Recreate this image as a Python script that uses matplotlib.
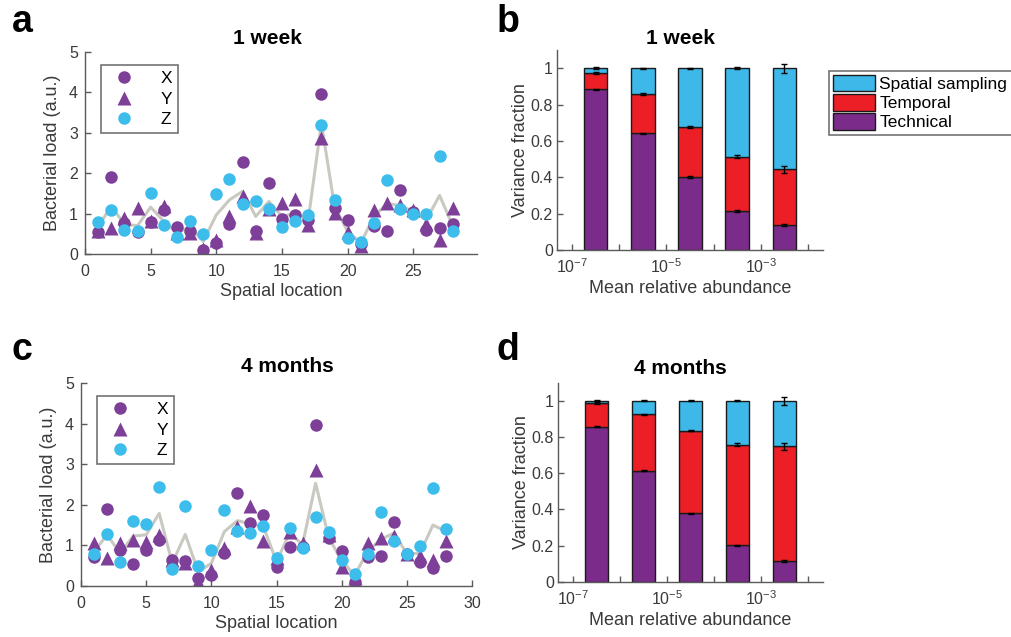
import matplotlib
matplotlib.use("Agg")
import matplotlib.pyplot as plt
from matplotlib.patches import Patch
import numpy as np

plt.rcParams['font.family'] = ['Liberation Sans', 'DejaVu Sans']
plt.rcParams['mathtext.default'] = 'regular'

# ---- data: bacterial load per spatial location ----
loc = np.arange(1, 29)

week_x = [0.54, 1.91, 0.76, 0.54, 0.78, 1.10, 0.68, 0.58, 0.10, 0.26, 0.75, 2.28, 0.58, 1.76,
          0.87, 0.97, 0.85, 3.95, 1.15, 0.85, 0.24, 0.70, 0.58, 1.58, 1.05, 0.60, 0.65, 0.75]
week_y = [0.58, 0.64, 0.89, 1.15, 0.82, 1.18, 0.52, 0.53, 0.12, 0.35, 0.93, 1.43, 0.52, 1.11,
          1.26, 1.36, 0.73, 2.87, 1.01, 0.55, 0.21, 1.10, 1.25, 1.22, 1.10, 0.75, 0.35, 1.15]
week_z = [0.78, 1.10, 0.60, 0.56, 1.51, 0.73, 0.43, 0.81, 0.50, 1.49, 1.86, 1.23, 1.30, 1.11,
          0.68, 0.81, 0.96, 3.20, 1.33, 0.40, 0.29, 0.77, 1.82, 1.12, 1.00, 1.00, 2.42, 0.58]
week_line = [0.68, 1.18, 0.74, 0.70, 1.16, 0.81, 0.52, 0.68, 0.31, 0.97, 1.34, 1.55, 0.93, 1.30,
             0.93, 1.01, 0.85, 3.24, 1.18, 0.56, 0.27, 0.93, 1.25, 1.20, 1.05, 0.85, 1.45, 0.70]

month_x = [0.72, 1.90, 0.89, 0.53, 0.89, 1.13, 0.64, 0.62, 0.19, 0.27, 0.81, 2.29, 1.56, 1.75,
           0.48, 0.97, 0.95, 3.97, 1.18, 0.87, 0.11, 0.72, 0.75, 1.58, 0.78, 0.60, 0.45, 0.75]
month_y = [1.05, 0.68, 1.05, 1.13, 1.09, 1.26, 0.64, 0.56, 0.10, 0.39, 0.93, 1.46, 1.96, 1.12,
           0.68, 1.34, 1.05, 2.86, 1.25, 0.48, 0.20, 1.07, 1.18, 1.22, 0.80, 0.75, 0.65, 1.10]
month_z = [0.79, 1.27, 0.60, 1.61, 1.52, 2.45, 0.42, 1.96, 0.49, 0.89, 1.86, 1.36, 1.30, 1.48,
           0.68, 1.44, 0.93, 1.71, 1.32, 0.64, 0.29, 0.79, 1.82, 1.10, 0.78, 0.98, 2.42, 1.40]
month_line = [0.85, 1.26, 0.81, 1.23, 1.26, 1.79, 0.56, 1.27, 0.35, 0.56, 1.34, 1.61, 1.53, 1.46,
              0.60, 1.30, 1.02, 2.53, 1.20, 0.62, 0.27, 0.85, 1.15, 1.30, 0.80, 0.80, 1.50, 1.35]

# ---- data: variance fractions per abundance bin ----
bin_centers = np.array([-6.5, -5.5, -4.5, -3.5, -2.5])   # log10 mean relative abundance

week_tech = [0.883, 0.641, 0.401, 0.214, 0.136]
week_temp_top = [0.974, 0.857, 0.676, 0.513, 0.443]
week_err = [[0.004, 0.004, 0.004], [0.004, 0.004, 0.003], [0.004, 0.005, 0.003],
            [0.005, 0.007, 0.004], [0.006, 0.018, 0.024]]

month_tech = [0.856, 0.614, 0.379, 0.202, 0.118]
month_temp_top = [0.987, 0.924, 0.835, 0.758, 0.749]
month_err = [[0.004, 0.006, 0.003], [0.004, 0.004, 0.002], [0.004, 0.005, 0.003],
             [0.004, 0.008, 0.004], [0.005, 0.020, 0.022]]

PURPLE_PT = '#7D3F98'
CYAN_PT = '#3DBDEC'
LINE_GRAY = '#C9C9C1'
C_SPATIAL = '#3DB8E8'
C_TEMP = '#EC1F26'
C_TECH = '#7B2C8A'
AX_GRAY = '#5A5A5A'
TXT = '#3A3A3A'

fig = plt.figure(figsize=(10.11, 6.37), dpi=100)


def style_axes(ax):
    for s in ['top', 'right']:
        ax.spines[s].set_visible(False)
    for s in ['left', 'bottom']:
        ax.spines[s].set_color(AX_GRAY)
        ax.spines[s].set_linewidth(1.0)
    ax.tick_params(direction='in', colors=AX_GRAY, labelcolor=TXT, labelsize=11.5,
                   length=4, width=1.0)
    ax.tick_params(axis='x', pad=7)
    ax.tick_params(axis='y', pad=5)


def scatter_panel(rect, xs, ys, zs, line, xmax, xticks):
    ax = fig.add_axes(rect)
    ax.plot(loc, line, color=LINE_GRAY, lw=2.2, zorder=1)
    ax.plot(loc, xs, 'o', color=PURPLE_PT, ms=9, mec='none', zorder=2, label='X')
    ax.plot(loc, ys, '^', color=PURPLE_PT, ms=9.5, mec='none', zorder=2, label='Y')
    ax.plot(loc, zs, 'o', color=CYAN_PT, ms=9, mec='none', zorder=3, label='Z')
    ax.set_xlim(0, xmax)
    ax.set_ylim(0, 5)
    ax.set_xticks(xticks)
    ax.set_yticks(range(6))
    style_axes(ax)
    ax.set_xlabel('Spatial location', fontsize=13, color=TXT, labelpad=3)
    ax.set_ylabel('Bacterial load (a.u.)', fontsize=13, color=TXT, labelpad=6)
    leg = ax.legend(loc='upper left', bbox_to_anchor=(0.04, 0.935), fontsize=12.5,
                    fancybox=False, handletextpad=1.1, borderpad=0.35, labelspacing=0.3,
                    handlelength=2.0, borderaxespad=0)
    leg.get_frame().set_edgecolor('#505050')
    leg.get_frame().set_linewidth(1.2)
    return ax


def bar_panel(rect, tech, temp_top, err):
    ax = fig.add_axes(rect)
    left = 10.0 ** (bin_centers - 0.25)
    width = 10.0 ** (bin_centers + 0.25) - left
    tech = np.array(tech)
    temp_top = np.array(temp_top)
    ec = '#1A1A1A'
    ax.bar(left, tech, width=width, align='edge', color=C_TECH, edgecolor=ec, lw=1.0)
    ax.bar(left, temp_top - tech, bottom=tech, width=width, align='edge', color=C_TEMP,
           edgecolor=ec, lw=1.0)
    ax.bar(left, 1 - temp_top, bottom=temp_top, width=width, align='edge', color=C_SPATIAL,
           edgecolor=ec, lw=1.0)
    centers = 10.0 ** bin_centers
    err = np.array(err)
    for k, yv in enumerate([tech, temp_top, np.ones(len(tech))]):
        ax.errorbar(centers, yv, yerr=err[:, k], fmt='none', ecolor='black', elinewidth=1.0,
                    capsize=2.2, capthick=1.0, zorder=5)
    ax.set_xscale('log')
    ax.set_xlim(10 ** -7.32, 10 ** -1.68)
    ax.set_xticks(10.0 ** np.arange(-7, -1))
    ax.set_xticklabels(['$10^{-7}$', '', '$10^{-5}$', '', '$10^{-3}$', ''])
    ax.xaxis.set_minor_locator(matplotlib.ticker.NullLocator())
    ax.set_ylim(0, 1.1)
    ax.set_yticks([0, 0.2, 0.4, 0.6, 0.8, 1.0])
    ax.set_yticklabels(['0', '0.2', '0.4', '0.6', '0.8', '1'])
    style_axes(ax)
    ax.tick_params(axis='x', pad=5)
    ax.tick_params(axis='y', pad=3)
    ax.set_xlabel('Mean relative abundance', fontsize=13, color=TXT, labelpad=3)
    ax.set_ylabel('Variance fraction', fontsize=13, color=TXT, labelpad=1)
    return ax


W, H = 1011.0, 637.0
scatter_panel([85 / W, 1 - 254 / H, 392 / W, 202 / H], week_x, week_y, week_z, week_line,
              29.85, [0, 5, 10, 15, 20, 25])
scatter_panel([81 / W, 1 - 586 / H, 391 / W, 203 / H], month_x, month_y, month_z, month_line,
              30, [0, 5, 10, 15, 20, 25, 30])
axb = bar_panel([557 / W, 1 - 250 / H, 266 / W, 200 / H], week_tech, week_temp_top, week_err)
bar_panel([558 / W, 1 - 582 / H, 265 / W, 199.5 / H], month_tech, month_temp_top, month_err)

handles = [Patch(facecolor=C_SPATIAL, edgecolor='#1A1A1A', label='Spatial sampling'),
           Patch(facecolor=C_TEMP, edgecolor='#1A1A1A', label='Temporal'),
           Patch(facecolor=C_TECH, edgecolor='#1A1A1A', label='Technical')]
leg = axb.legend(handles=handles, loc='upper left', bbox_to_anchor=(829 / W, 1 - 71 / H),
                 bbox_transform=fig.transFigure, fontsize=12.5, fancybox=False,
                 handlelength=2.4, handleheight=1.05, handletextpad=0.25, labelspacing=0.12,
                 borderpad=0.25, borderaxespad=0)
leg.get_frame().set_edgecolor('#505050')
leg.get_frame().set_linewidth(1.2)

# titles and panel letters
for x, y, t in [(267, 38, '1 week'), (680, 38, '1 week'), (287, 367, '4 months'),
                (680, 369, '4 months')]:
    fig.text(x / W, 1 - y / H, t, ha='center', va='center', fontsize=15, fontweight='bold')
for x, y, t in [(22, 22, 'a'), (508, 22, 'b'), (22, 350, 'c'), (508, 350, 'd')]:
    fig.text(x / W, 1 - y / H, t, ha='center', va='center', fontsize=27, fontweight='bold')

fig.savefig('out.png', dpi=100)
